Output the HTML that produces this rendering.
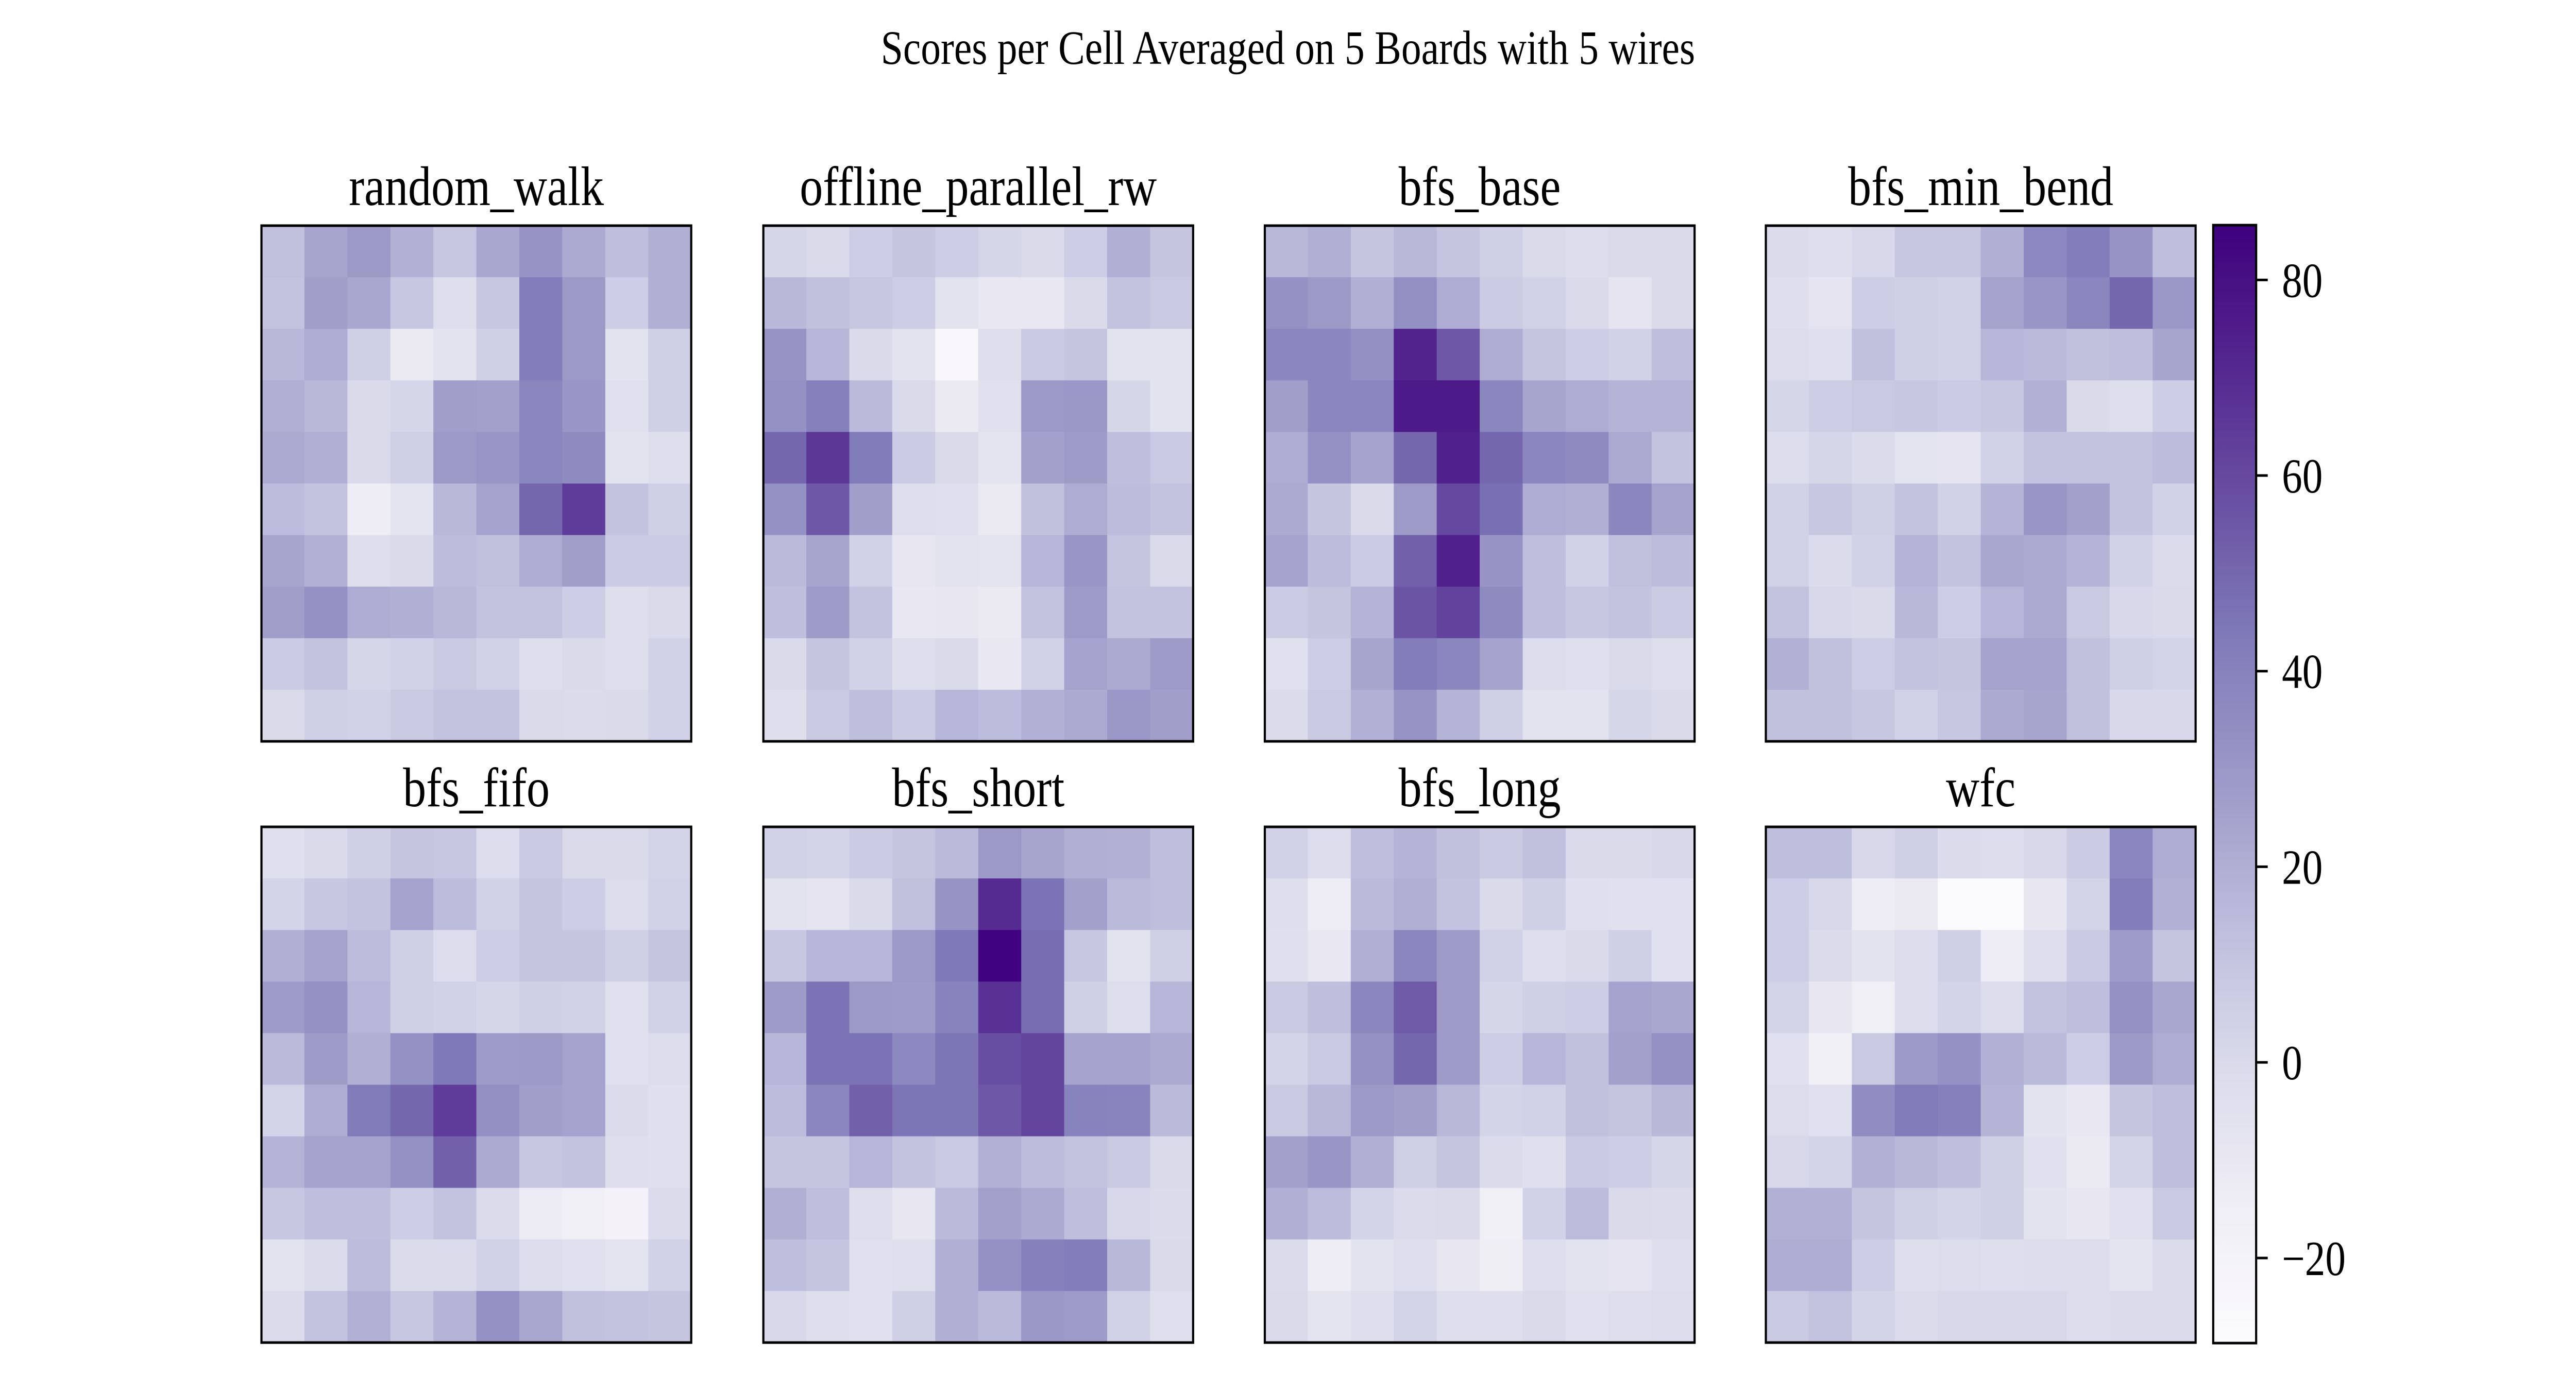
<!DOCTYPE html>
<html><head><meta charset="utf-8"><style>
html,body{margin:0;padding:0;background:#fff;overflow:hidden;width:100%;height:100%;}
svg{display:block;position:absolute;left:0;top:0;width:100vw;height:100vh;}
text{font-family:"Liberation Serif",serif;fill:#000;}
</style></head>
<body>
<svg id="fig" viewBox="0 0 6000 2700" preserveAspectRatio="none" xmlns="http://www.w3.org/2000/svg">
<rect width="6000" height="2700" fill="#fff"/>
<text x="3000" y="124" font-size="93" text-anchor="middle">Scores per Cell Averaged on 5 Boards with 5 wires</text>
</svg>
<script>
const panelNames = ["random_walk","offline_parallel_rw","bfs_base","bfs_min_bend","bfs_fifo","bfs_short","bfs_long","wfc"];
const randomWalk = [
[12,24,29,19,9,23,32,22,13,20],[11,27,23,9,-3,9,42,29,6,20],[16,21,5,-12,-6,5,42,29,-6,5],
[20,16,0,2,27,26,38,31,-5,5],[22,20,0,5,29,31,38,36,-6,-3],[14,11,-14,-7,16,25,50,64,11,5],
[24,19,-3,0,14,12,21,27,7,7],[27,33,21,20,16,11,11,6,-3,0],[7,11,2,4,8,4,-3,0,-3,4],[0,5,4,8,11,11,0,-1,0,4]];
const offlineParallel = [
[2,0,6,10,6,2,0,6,20,10],[16,12,9,6,-6,-10,-10,0,11,8],[32,17,0,-6,-25,-3,8,10,-6,-6],
[33,41,15,0,-12,-5,29,30,2,-6],[50,66,43,7,0,-7,26,28,13,8],[33,55,27,-3,-4,-12,12,21,14,11],
[15,24,4,-9,-6,-7,17,31,10,0],[13,28,11,-10,-9,-12,11,28,11,11],[0,10,4,-3,0,-10,4,25,22,28],[-3,8,13,7,17,14,19,22,30,27]];
const bfsBase = [
[16,20,10,16,10,5,0,-2,0,0],[33,29,20,34,21,7,4,0,-8,0],[38,38,34,73,55,21,10,6,4,13],
[27,38,38,76,76,38,24,21,18,18],[21,33,25,50,74,50,38,36,22,11],[22,10,0,28,60,47,21,20,38,25],
[25,14,7,52,74,32,13,4,12,14],[7,10,18,56,62,36,13,9,11,7],[-5,6,24,42,38,25,-2,-4,0,-3],[-1,8,19,32,18,5,-6,-6,2,0]];
const bfsMinBend = [
[-1,-3,1,9,9,20,37,42,32,13],[-3,-8,6,5,4,25,31,38,50,30],[-2,-4,12,5,4,17,15,12,13,24],
[2,6,8,9,7,9,19,0,-3,6],[-2,2,-1,-7,-8,4,11,11,11,14],[4,9,5,11,4,18,31,26,11,4],
[4,-1,4,18,11,23,22,18,4,-1],[11,1,0,16,6,17,22,8,1,0],[19,12,6,11,10,25,25,12,5,3],[12,12,9,4,9,22,24,12,1,1]];
const bfsFifo = [
[-4,0,5,10,9,-2,8,0,0,3],[3,9,11,25,14,4,10,6,-2,4],[20,25,14,5,-2,6,10,10,5,10],
[28,33,17,5,4,2,5,4,-5,4],[15,28,20,33,44,28,29,25,-5,-2],[3,21,43,50,64,34,27,25,-1,-4],
[18,25,25,33,52,22,9,11,-3,-4],[9,13,13,6,11,-1,-13,-16,-20,-1],[-6,-1,14,-1,-1,4,-2,-5,-7,4],[-1,11,19,9,18,33,23,12,11,10]];
const bfsShort = [
[4,3,7,10,15,29,24,20,19,13],[-6,-8,0,12,32,70,46,26,15,13],[9,17,17,29,44,85,48,9,-6,5],
[28,46,29,28,40,68,48,5,-3,17],[17,46,46,37,45,58,61,25,25,22],[14,38,52,45,45,55,61,40,39,15],
[10,10,17,11,8,19,14,11,8,0],[20,13,-3,-9,15,26,22,13,1,-1],[13,10,-5,-4,20,33,41,42,16,0],[1,-3,-5,5,20,15,30,28,4,-4]];
const bfsLong = [
[4,-2,13,18,12,8,12,0,0,1],[-3,-14,15,20,11,0,5,-4,-5,-5],[-4,-10,20,38,28,4,-3,0,5,-5],
[8,13,38,54,28,2,5,6,25,23],[3,8,33,50,28,6,17,12,26,33],[8,16,29,27,16,3,4,12,10,16],
[26,31,20,5,10,-1,-4,8,6,2],[20,14,3,-1,0,-16,4,14,0,-1],[-1,-14,-6,-3,-9,-15,-3,-6,-8,-3],[0,-7,-3,3,-3,-3,0,-5,-3,-2]];
const wfc = [
[13,13,1,5,-1,-2,1,7,38,21],[6,1,-14,-12,-28,-28,-9,3,42,19],[6,-1,-6,-2,5,-14,-3,8,28,10],
[3,-9,-16,-2,3,-2,11,13,33,23],[-5,-17,8,29,33,19,15,6,29,21],[-2,-5,35,43,41,18,-6,-10,10,13],
[1,3,19,16,13,5,-5,-12,3,13],[19,19,10,5,3,5,-6,-9,-5,8],[21,21,6,-3,-2,-3,-2,-2,-7,-1],[8,11,3,-1,1,1,1,-2,-1,-1]];
const panelData = [randomWalk, offlineParallel, bfsBase, bfsMinBend, bfsFifo, bfsShort, bfsLong, wfc];
const colorTicks = [-20, 0, 20, 40, 60, 80];
const vmin = -28.7, vmax = 85.6;

const NS = "http://www.w3.org/2000/svg";
const svg = document.getElementById("fig");
const stops = ["#fcfbfd","#efedf5","#dadaeb","#bcbddc","#9e9ac8","#807dba","#6a51a3","#54278f","#3f007d"];
function hex(h){return [1,3,5].map(i=>parseInt(h.substr(i,2),16));}
const stopRGB = stops.map(hex);
function cmap(v){
  let t = (v - vmin) / (vmax - vmin); t = Math.max(0, Math.min(1, t));
  const p = t * (stopRGB.length - 1); const i = Math.min(stopRGB.length - 2, Math.floor(p)); const f = p - i;
  const a = stopRGB[i], b = stopRGB[i+1];
  return "rgb(" + a.map((c,k)=>Math.round(c + (b[k]-c)*f)).join(",") + ")";
}
function mk(tag, attrs){const e=document.createElementNS(NS,tag);for(const k in attrs)e.setAttribute(k,attrs[k]);return e;}

const lefts = [609, 1778, 2946, 4113], tops = [438, 1605], size = 1001;
panelData.forEach((grid, p) => {
  const x0 = lefts[p % 4], y0 = tops[Math.floor(p / 4)];
  const g = mk("g", {});
  
  
  const nr = grid.length, nc = grid[0].length;
  const cw = size / nc, ch = size / nr;
  grid.forEach((row, r) => row.forEach((v, c) => {
    const rect = mk("rect", {x: x0 + c*cw, y: y0 + r*ch, width: cw + 0.6, height: ch + 0.6, fill: cmap(v)});
    
    
    g.appendChild(rect);
  }));
  const frame = mk("rect", {x: x0, y: y0, width: size, height: size, fill: "none", stroke: "#000", "stroke-width": 5});
  
  
  g.appendChild(frame);
  const t = mk("text", {x: x0 + size/2, y: y0 - 40, "font-size": 108, "text-anchor": "middle"});
  t.textContent = panelNames[p];
  
  
  g.appendChild(t);
  svg.appendChild(g);
});

const cbX = 5155, cbW = 100, cbTop = 437, cbBot = 2607;
const cb = mk("g", {});


const defs = mk("defs", {});
const lg = mk("linearGradient", {id: "cbgrad", x1: 0, y1: 1, x2: 0, y2: 0});
for (let i = 0; i <= 40; i++) {
  const st = mk("stop", {offset: i/40, "stop-color": cmap(vmin + (vmax - vmin) * i / 40)});
  lg.appendChild(st);
}
defs.appendChild(lg); svg.appendChild(defs);
const cbRect = mk("rect", {x: cbX, y: cbTop, width: cbW, height: cbBot - cbTop, fill: "url(#cbgrad)", stroke: "#000", "stroke-width": 5});


cb.appendChild(cbRect);
function yScale(v){return cbBot - (v - vmin) / (vmax - vmin) * (cbBot - cbTop);}
colorTicks.forEach(v => {
  const y = yScale(v);
  const tk = mk("line", {x1: cbX + cbW, x2: cbX + cbW + 27, y1: y, y2: y, stroke: "#000", "stroke-width": 5});
  
  
  cb.appendChild(tk);
  const tl = mk("text", {x: cbX + cbW + 60, y: y + 33, "font-size": 95});
  tl.textContent = v < 0 ? "\u2212" + Math.abs(v) : String(v);
  
  
  cb.appendChild(tl);
});
svg.appendChild(cb);
</script>
</body></html>
